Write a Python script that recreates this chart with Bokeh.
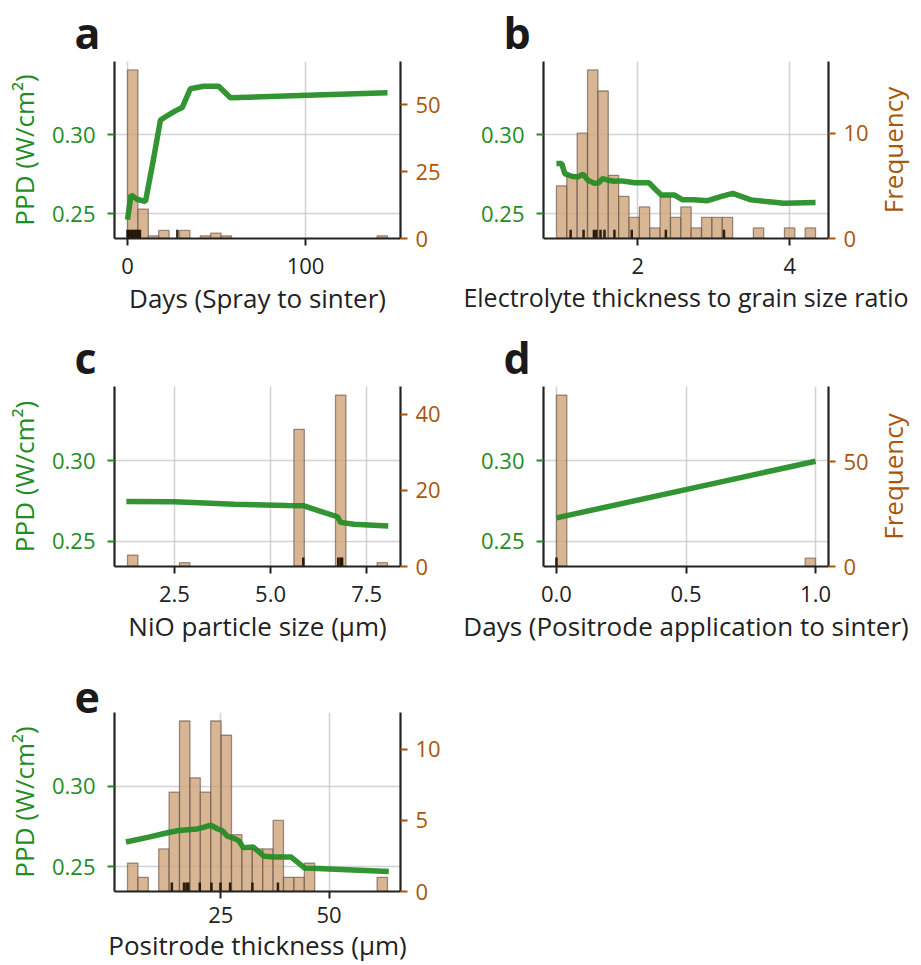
import numpy as np
from bokeh.plotting import figure
from bokeh.models import Range1d, LinearAxis, NumeralTickFormatter, BasicTickFormatter
from bokeh.layouts import column, row
from bokeh.embed import file_html
from bokeh.resources import INLINE

# ---------------- data ----------------
N_BINS = 25
PPD_RANGE = (0.2344, 0.3462)
PPD_TICKS = [0.25, 0.30]

# panel a : Days (Spray to sinter)
a_hist_range = (0.0, 146.0)
a_counts = [63, 11, 1, 3, 0, 3, 0, 1, 2, 1, 0, 0, 0, 0, 0, 0, 0, 0, 0, 0, 0, 0, 0, 0, 1]
a_pd_x = [0, 2, 5.4, 10.1, 14.8, 18.5, 22.2, 26.9, 30.7, 35.3, 42.8, 51.2, 57.8, 97, 146]
a_pd_y = [0.2463, 0.2619, 0.2592, 0.2577, 0.2858, 0.3092, 0.3119, 0.3150, 0.3171, 0.3290,
          0.3306, 0.3306, 0.3233, 0.3248, 0.3265]
a_rug = [0, 1, 2, 3, 4, 5, 6, 7, 28]
a_xticks = [0, 100]
a_freq_ticks = [0, 25, 50]

# panel b : Electrolyte thickness to grain size ratio
b_hist_range = (0.93, 4.34)
b_counts = [5, 6, 10, 16, 14, 6, 4, 2, 3, 1, 4, 2, 3, 1, 2, 2, 2, 0, 0, 1, 0, 0, 1, 0, 1]
b_pd_x = [0.93, 1.0, 1.04, 1.13, 1.21, 1.28, 1.345, 1.43, 1.485, 1.54, 1.61, 1.69, 1.78, 1.87,
          1.96, 2.15, 2.22, 2.31, 2.48, 2.59, 2.74, 2.92, 3.09, 3.25, 3.49, 3.70, 3.92, 4.34]
b_pd_y = [0.2817, 0.2817, 0.2754, 0.2737, 0.2733, 0.2750, 0.2712, 0.2692, 0.2696, 0.2723,
          0.2712, 0.2706, 0.2708, 0.2702, 0.2696, 0.2696, 0.2660, 0.2619, 0.2619, 0.2588,
          0.2588, 0.2583, 0.2608, 0.2629, 0.2588, 0.2577, 0.2567, 0.2571]
b_rug = [1.117, 1.287, 1.423, 1.453, 1.510, 1.562, 1.693, 1.921, 2.370, 3.135]
b_xticks = [2, 4]
b_freq_ticks = [0, 10]

# panel c : NiO particle size (µm)
c_hist_range = (1.28, 8.04)
c_counts = [3, 0, 0, 0, 0, 1, 0, 0, 0, 0, 0, 0, 0, 0, 0, 0, 36, 0, 0, 0, 45, 0, 0, 0, 1]
c_pd_x = [1.25, 2.5, 4.05, 5.43, 5.87, 6.30, 6.74, 6.82, 7.17, 8.06]
c_pd_y = [0.2748, 0.2746, 0.2731, 0.2723, 0.2721, 0.2686, 0.2653, 0.2618, 0.2607, 0.2595]
c_rug = [5.85, 6.76, 6.82, 6.86]
c_xticks = [2.5, 5.0, 7.5]
c_freq_ticks = [0, 20, 40]

# panel d : Days (Positrode application to sinter)
d_hist_range = (0.0, 1.0)
d_counts = [82, 0, 0, 0, 0, 0, 0, 0, 0, 0, 0, 0, 0, 0, 0, 0, 0, 0, 0, 0, 0, 0, 0, 0, 4]
d_pd_x = [0.0, 1.0]
d_pd_y = [0.2646, 0.2998]
d_rug = [0.0]
d_xticks = [0.0, 0.5, 1.0]
d_freq_ticks = [0, 50]

# panel e : Positrode thickness (µm)
e_hist_range = (3.46, 63.5)
e_counts = [2, 1, 0, 3, 7, 12, 8, 7, 12, 11, 4, 3, 3, 3, 5, 1, 1, 2, 0, 0, 0, 0, 0, 0, 1]
e_pd_x = [3.1, 8.1, 12.7, 15.0, 17.3, 19.6, 21.2, 22.7, 24.2, 25.4, 26.5, 28.1, 29.2, 30.2,
          32.5, 35.0, 37.3, 41.2, 44.4, 47.3, 63.8]
e_pd_y = [0.2653, 0.2682, 0.2711, 0.2723, 0.2729, 0.2735, 0.2746, 0.2758, 0.2736, 0.2723,
          0.2690, 0.2676, 0.2660, 0.2618, 0.2622, 0.2564, 0.2560, 0.2560, 0.2490, 0.2488, 0.2469]
e_rug = [13.7, 16.5, 17.07, 17.5, 20.15, 22.85, 24.93, 27.15, 32.3, 38.2]
e_xticks = [25, 50]
e_freq_ticks = [0, 5, 10]

# ---------------- style ----------------
GREEN = "#248c24"
BROWN = "#a8570a"
AXIS = "#222222"
FONT = "Open Sans"
TICK_FS = "22px"
LABEL_FS = "26px"


def style_axis(ax, color_ticks, color_labels, label_standoff, axlabel_standoff):
    ax.axis_line_color = AXIS
    ax.axis_line_width = 2.2
    ax.major_tick_line_color = color_ticks
    ax.major_tick_line_width = 2
    ax.major_tick_out = 7
    ax.major_tick_in = 0
    ax.minor_tick_line_color = None
    ax.major_label_text_font = FONT
    ax.major_label_text_font_size = TICK_FS
    ax.major_label_text_color = color_labels
    ax.major_label_standoff = label_standoff
    ax.axis_label_text_font = FONT
    ax.axis_label_text_font_size = LABEL_FS
    ax.axis_label_text_font_style = "normal"
    ax.axis_label_text_color = color_labels
    ax.axis_label_standoff = axlabel_standoff


def make_panel(letter, counts, hist_range, pd_x, pd_y, rug, xticks, xfmt, freq_ticks,
               xlabel, show_ppd, w, h, bl, br, bt, bb, xlabel_fs=LABEL_FS, xstand=(12, 3)):
    lo, hi = hist_range
    span = hi - lo
    edges = np.linspace(lo, hi, N_BINS + 1)
    cnt = np.array(counts, dtype=float)
    keep = cnt > 0

    p = figure(width=w, height=h, output_backend="svg", toolbar_location=None,
               x_range=Range1d(lo - 0.05 * span, hi + 0.05 * span),
               y_range=Range1d(*PPD_RANGE),
               min_border_left=bl, min_border_right=br, min_border_top=bt, min_border_bottom=bb)
    p.extra_y_ranges = {"freq": Range1d(0, cnt.max() * 1.05)}
    p.outline_line_color = None
    p.background_fill_color = "white"
    p.border_fill_color = "white"

    # histogram
    p.quad(left=edges[:-1][keep], right=edges[1:][keep], top=cnt[keep], bottom=0,
           y_range_name="freq", fill_color="#cfa57b", fill_alpha=0.82,
           line_color="#5e4d42", line_alpha=0.6, line_width=1.3)

    # partial dependence line
    p.line(pd_x, pd_y, line_color=GREEN, line_width=5.5, line_alpha=0.93)

    # rug
    y0 = PPD_RANGE[0]
    y1 = PPD_RANGE[0] + 0.05 * (PPD_RANGE[1] - PPD_RANGE[0])
    p.segment(x0=rug, x1=rug, y0=[y0] * len(rug), y1=[y1] * len(rug),
              line_color="#1a0e00", line_width=2.5, line_alpha=0.9)

    # axes
    xa = p.xaxis[0]
    xa.ticker = xticks
    xa.formatter = xfmt
    style_axis(xa, AXIS, AXIS, xstand[0], xstand[1])
    xa.axis_label = xlabel
    xa.axis_label_text_color = AXIS
    xa.axis_label_text_font_size = xlabel_fs

    ya = p.yaxis[0]
    ya.ticker = PPD_TICKS
    ya.formatter = NumeralTickFormatter(format="0.00")
    style_axis(ya, GREEN, GREEN, 12, 7)
    if show_ppd:
        ya.axis_label = "PPD (W/cm²)"

    ra = LinearAxis(y_range_name="freq")
    ra.ticker = freq_ticks
    style_axis(ra, BROWN, BROWN, 8, 8)
    p.add_layout(ra, "right")

    for g in (p.xgrid[0], p.ygrid[0]):
        g.grid_line_color = "#c8c8c8"
        g.grid_line_width = 1.6
        g.grid_line_alpha = 0.8

    p.title.text = letter
    p.title.text_font = FONT
    p.title.text_font_size = "43px"
    p.title.text_font_style = "bold"
    p.title.text_color = "#1a1a1a"
    p.title.align = "left"
    p.title.offset = -40
    p.title.standoff = 0
    return p


def freq_label(w, h, bt, bb):
    # transparent narrow strip laid over the right edge of a panel; it carries the
    # right-hand "Frequency" label so that it reads bottom-to-top
    f = figure(width=w, height=h, output_backend="svg", toolbar_location=None,
               x_axis_type=None, x_range=Range1d(0, 1), y_range=Range1d(0, 1),
               min_border_left=0, min_border_right=0, min_border_top=bt,
               min_border_bottom=bb, margin=(0, 0, 0, -w))
    f.outline_line_color = None
    f.background_fill_alpha = 0
    f.border_fill_alpha = 0
    f.grid.visible = False
    ax = f.yaxis[0]
    ax.ticker = []
    ax.axis_line_color = None
    ax.major_tick_line_color = None
    ax.minor_tick_line_color = None
    ax.major_tick_out = 0
    ax.major_label_text_font_size = "0px"
    ax.axis_label = "Frequency"
    ax.axis_label_text_font = FONT
    ax.axis_label_text_font_size = LABEL_FS
    ax.axis_label_text_font_style = "normal"
    ax.axis_label_text_color = BROWN
    ax.axis_label_standoff = 0
    return f


pa = make_panel("a", a_counts, a_hist_range, a_pd_x, a_pd_y, a_rug, a_xticks, BasicTickFormatter(),
                a_freq_ticks, "Days (Spray to sinter)", True, 460, 318, 114, 60, 60, 79)
pb = make_panel("b", b_counts, b_hist_range, b_pd_x, b_pd_y, b_rug, b_xticks, BasicTickFormatter(),
                b_freq_ticks, "Electrolyte thickness to grain size ratio", False,
                461, 318, 83, 93, 60, 79, xlabel_fs="25px")
fb = freq_label(50, 318, 60, 79)
pc = make_panel("c", c_counts, c_hist_range, c_pd_x, c_pd_y, c_rug, c_xticks,
                NumeralTickFormatter(format="0.0"), c_freq_ticks, "NiO particle size (µm)",
                True, 460, 328, 114, 60, 68, 79)
pd_ = make_panel("d", d_counts, d_hist_range, d_pd_x, d_pd_y, d_rug, d_xticks,
                 NumeralTickFormatter(format="0.0"), d_freq_ticks,
                 "Days (Positrode application to sinter)", False, 461, 328, 83, 93, 68, 79)
fd = freq_label(50, 328, 68, 79)
pe = make_panel("e", e_counts, e_hist_range, e_pd_x, e_pd_y, e_rug, e_xticks, BasicTickFormatter(),
                e_freq_ticks, "Positrode thickness (µm)", True, 460, 319, 114, 60, 66, 73,
                xstand=(8, 1))

layout = column(row(pa, pb, fb), row(pc, pd_, fd), row(pe))
open("out.html", "w").write(file_html(layout, INLINE))
